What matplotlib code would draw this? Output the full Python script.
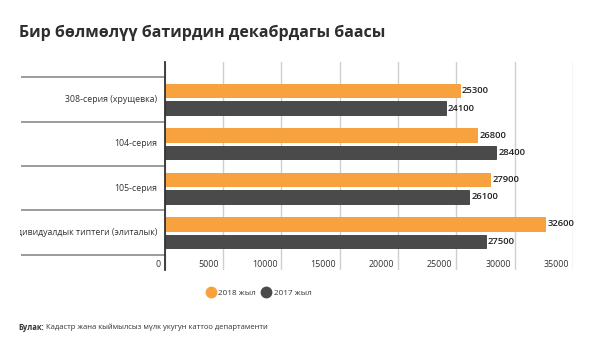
import matplotlib
matplotlib.use("Agg")
import matplotlib.pyplot as plt
from matplotlib import transforms
from matplotlib.transforms import Bbox, TransformedBbox
from matplotlib.lines import Line2D
import numpy as np

plt.rcParams['font.family'] = ['Open Sans', 'DejaVu Sans']

categories = ["308-серия (хрущевка)", "104-серия", "105-серия",
              "Индивидуалдык типтеги (элиталык)"]
values_2018 = [25300, 26800, 27900, 32600]
values_2017 = [24100, 28400, 26100, 27500]
series_names = ["2018 жыл", "2017 жыл"]
xticks = [0, 5000, 10000, 15000, 20000, 25000, 30000, 35000]

ORANGE = "#F8A23F"
DARK = "#4A4A4A"
TXT = "#333333"

fig = plt.figure(figsize=(6.0, 3.54), dpi=100)
ax = fig.add_axes([164.7 / 600, 1 - 270 / 354, 408.5 / 600, 208 / 354])

y = np.arange(len(categories))
h = 0.30
off = 0.195
ax.barh(y - off, values_2018, height=h, color=ORANGE, edgecolor="#F39A30", linewidth=0.6, zorder=3)
ax.barh(y + off, values_2017, height=h, color=DARK, edgecolor="#3a3a3a", linewidth=0.6, zorder=3)

ax.set_xlim(0, 35000)
ax.set_ylim(3.843, -0.843)

# grid
ax.set_xticks(xticks)
ax.xaxis.grid(True, color="#cfcfcf", linewidth=1.0, zorder=0)
ax.tick_params(axis='x', length=0, labelbottom=False)
for s in ["top", "right", "bottom"]:
    ax.spines[s].set_visible(False)
ax.spines["left"].set_color("#333333")
ax.spines["left"].set_linewidth(1.3)
ax.spines["left"].set_zorder(4)

# category separators as long minor ticks
ax.set_yticks(y)
ax.set_yticks(np.arange(-0.5, len(categories), 1.0), minor=True)
ax.tick_params(axis='y', which='major', length=0, labelleft=False)
ax.tick_params(axis='y', which='minor', length=144 * 72 / 100, width=1.2,
               color="#8a8a8a", direction='out', labelleft=False)

# category labels (clipped at left like the reference)
lab_tr = transforms.offset_copy(ax.get_yaxis_transform(), fig=fig, x=-7.7, y=0, units='dots')
clipbox = TransformedBbox(Bbox.from_extents(20 / 600, 0, 1, 1), fig.transFigure)
for yi, c in zip(y, categories):
    t = ax.text(0, yi, c, transform=lab_tr, ha='right', va='center',
                fontsize=6.3, color=TXT)
    t.set_clip_path(None)
    t.set_clip_box(clipbox)
    t.set_clip_on(True)

# x tick labels (right-aligned just left of gridlines)
xl_tr = transforms.offset_copy(ax.transData, fig=fig, x=-4, y=0, units='dots')
for xv in xticks:
    ax.text(xv, 3.73, f"{xv}", transform=xl_tr, ha='right', va='center',
            fontsize=6.4, color=TXT, clip_on=False)

# value labels
vl_tr = transforms.offset_copy(ax.transData, fig=fig, x=2, y=0, units='dots')
for yi, v in zip(y, values_2018):
    ax.text(v, yi - off, f"{v}", transform=vl_tr, ha='left', va='center',
            fontsize=6.8, fontweight='semibold', color="#222222", clip_on=False)
for yi, v in zip(y, values_2017):
    ax.text(v, yi + off, f"{v}", transform=vl_tr, ha='left', va='center',
            fontsize=6.8, fontweight='semibold', color="#222222", clip_on=False)

# title
fig.text(19 / 600, 1 - 33 / 354, "Бир бөлмөлүү батирдин декабрдагы баасы",
         fontsize=11.5, fontweight='bold', color="#2e2e2e", ha='left', va='center')

# legend
handles = [Line2D([], [], marker='o', linestyle='', markersize=7.5, color=ORANGE),
           Line2D([], [], marker='o', linestyle='', markersize=7.5, color=DARK)]
fig.legend(handles, series_names, loc='center', bbox_to_anchor=(259 / 600, 1 - 293 / 354),
           ncol=2, frameon=False, fontsize=5.9, handletextpad=0.4, columnspacing=0.8,
           handlelength=1.0, labelcolor=TXT)

# source
src1 = fig.text(18 / 600, 1 - 327 / 354, "Булак:", fontsize=5.5, fontweight='bold',
                color=TXT, ha='left', va='center')
fig.canvas.draw()
bb = src1.get_window_extent()
fig.text((bb.x1 + 2) / 600, 1 - 327 / 354, "Кадастр жана кыймылсыз мүлк укугун каттоо департаменти",
         fontsize=5.5, color=TXT, ha='left', va='center')

fig.savefig("out.png", dpi=100)
